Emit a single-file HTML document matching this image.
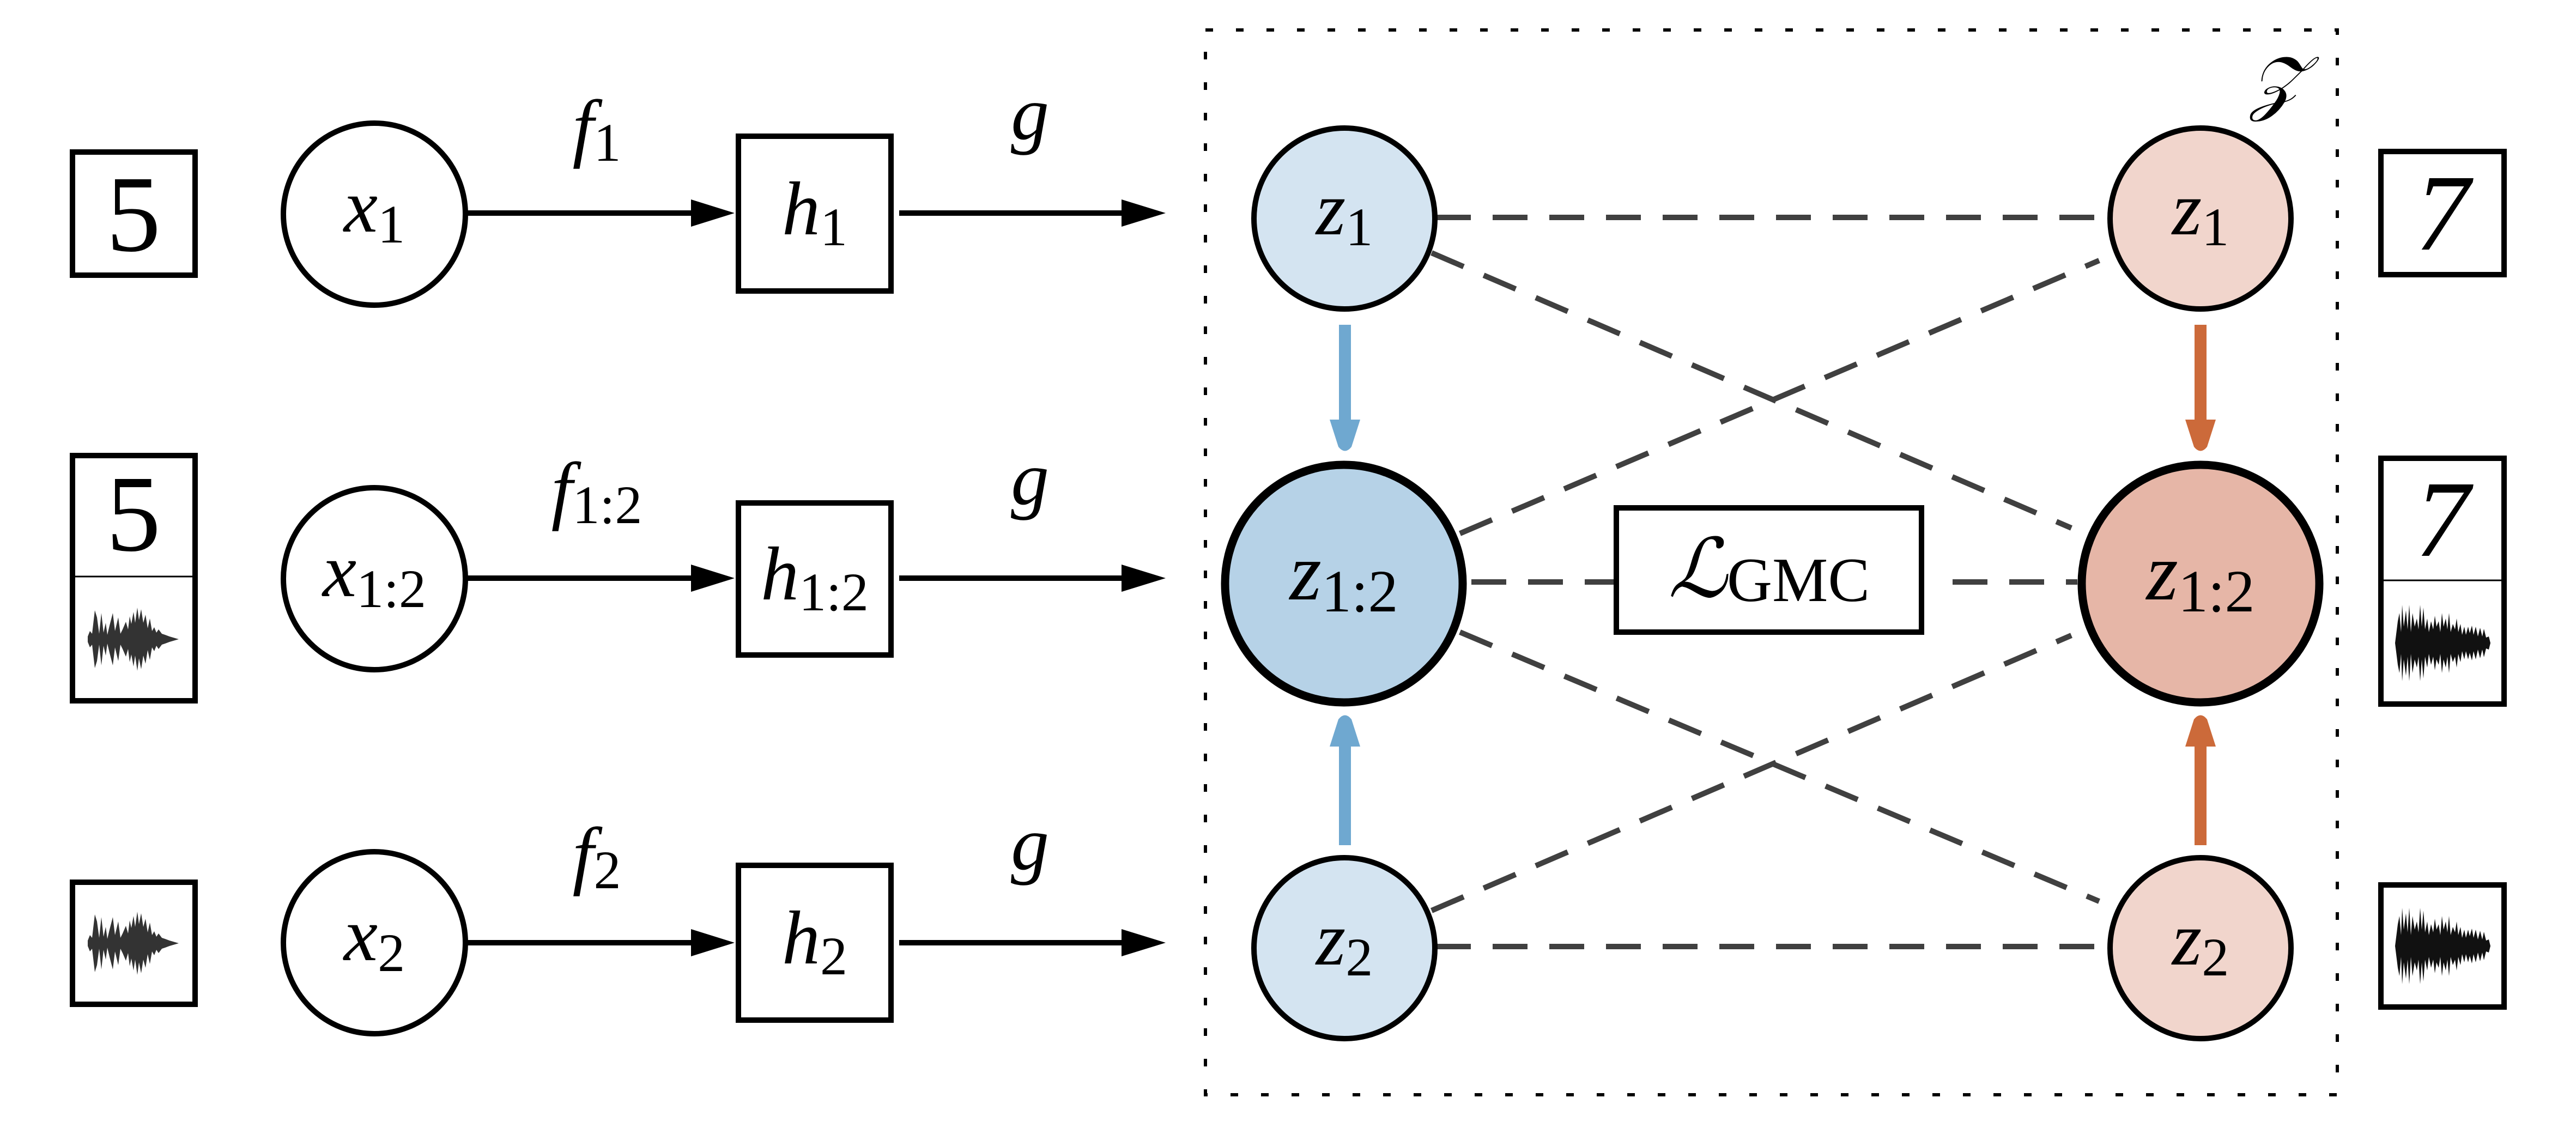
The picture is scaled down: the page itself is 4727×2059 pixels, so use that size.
<!DOCTYPE html>
<html><head><meta charset="utf-8"><style>
html,body{margin:0;padding:0;background:#fff;}
svg{display:block;}
svg text, svg tspan{font-family:"Liberation Serif","Times New Roman",Times,"Nimbus Roman","DejaVu Serif",serif;}
svg .sc{font-family:"DejaVu Serif","Liberation Serif",serif;}
.v{font-style:italic;font-size:140px;}
.s{font-style:normal;font-size:100px;}
</style></head><body>
<svg width="4727" height="2059" viewBox="0 0 4727 2059" xmlns="http://www.w3.org/2000/svg" font-family="'Liberation Serif', Times, serif">
<defs>
<g id="wl">
<path d="M0,-5 L4,-15 L8,-10 L13,-53 L17,-40 L21,-10 L25,-48 L29,-12 L33,-30 L36,-8 L40,-25 L46,-48 L50,-15 L56,-40 L60,-10 L64,-18 L70,-32 L74,-18 L77,-42 L80,-28 L84,-50 L87,-30 L91,-58 L94,-35 L98,-55 L102,-30 L106,-45 L110,-20 L114,-38 L118,-15 L122,-22 L126,-12 L130,-18 L136,-10 L142,-8 L150,-5 L167,0 L150,5 L142,8 L136,10 L130,18 L126,12 L122,22 L118,15 L114,38 L110,20 L106,45 L102,30 L98,55 L94,35 L91,58 L87,30 L84,50 L80,28 L77,42 L74,18 L70,32 L64,18 L60,10 L56,40 L50,15 L46,48 L40,25 L36,8 L33,30 L29,12 L25,48 L21,10 L17,40 L13,53 L8,10 L4,15 L0,5 Z" fill="#333"/>
</g>
<g id="wr">
<path d="M0,0 L5,-40 L8,-55 L11,-20 L13,-70 L16,-30 L20,-60 L23,-25 L26,-70 L29,-20 L32,-55 L36,-30 L40,-45 L43,-25 L46,-70 L49,-30 L52,-65 L55,-25 L59,-45 L62,-20 L66,-40 L70,-25 L73,-50 L76,-30 L80,-40 L83,-20 L86,-55 L89,-30 L93,-45 L96,-25 L99,-55 L102,-20 L106,-35 L110,-25 L113,-45 L116,-20 L120,-35 L123,-15 L127,-30 L130,-15 L134,-30 L137,-18 L141,-32 L144,-15 L148,-30 L152,-12 L156,-28 L160,-12 L163,-26 L167,-10 L172,-12 L175,0 L172,12 L167,10 L163,26 L160,12 L156,28 L152,12 L148,30 L144,15 L141,32 L137,18 L134,30 L130,15 L127,30 L123,15 L120,35 L116,20 L113,45 L110,25 L106,35 L102,20 L99,55 L96,25 L93,45 L89,30 L86,55 L83,20 L80,40 L76,30 L73,50 L70,25 L66,40 L62,20 L59,45 L55,25 L52,65 L49,30 L46,70 L43,25 L40,45 L36,30 L32,55 L29,20 L26,70 L23,25 L20,60 L16,30 L13,70 L11,20 L8,55 L5,40 Z" fill="#111"/>
</g>
</defs>

<rect x="2212" y="55" width="2077" height="1954" fill="none" stroke="#000" stroke-width="6" stroke-dasharray="14 42"/>
<text x="4178" y="195" text-anchor="middle" class="sc" style="font-style:italic;font-size:130px">𝒵</text>

<g stroke="#000" stroke-width="10" fill="#fff">
<rect x="133" y="279" width="225" height="226"/>
<rect x="133" y="836" width="225" height="450"/>
<rect x="133" y="1619" width="225" height="224"/>
<rect x="4369" y="278" width="226" height="226"/>
<rect x="4369" y="841" width="226" height="451"/>
<rect x="4369" y="1624" width="226" height="224"/>
</g>
<line x1="133" y1="1058" x2="358" y2="1058" stroke="#000" stroke-width="3"/>
<line x1="4369" y1="1065" x2="4595" y2="1065" stroke="#000" stroke-width="3"/>
<text x="245" y="460" text-anchor="middle" font-size="200">5</text>
<text x="245" y="1010" text-anchor="middle" font-size="200">5</text>
<text x="4482" y="458" text-anchor="middle" font-size="200" font-style="italic">7</text>
<text x="4482" y="1020" text-anchor="middle" font-size="200" font-style="italic">7</text>
<use href="#wl" x="161" y="1173"/>
<use href="#wl" x="161" y="1731"/>
<use href="#wr" x="4395" y="1180"/>
<use href="#wr" x="4395" y="1736"/>

<g stroke="#000" stroke-width="10" fill="#fff">
<circle cx="687" cy="393" r="167"/>
<circle cx="687" cy="1062" r="167"/>
<circle cx="687" cy="1730" r="167"/>
<rect x="1355" y="250" width="280" height="284"/>
<rect x="1355" y="923" width="280" height="279"/>
<rect x="1355" y="1588" width="280" height="284"/>
</g>
<g stroke="#000" stroke-width="10">
<line x1="855" y1="391" x2="1290" y2="391"/>
<line x1="1650" y1="391" x2="2080" y2="391"/>
<line x1="855" y1="1061" x2="1290" y2="1061"/>
<line x1="1650" y1="1061" x2="2080" y2="1061"/>
<line x1="855" y1="1730" x2="1290" y2="1730"/>
<line x1="1650" y1="1730" x2="2080" y2="1730"/>
</g>
<g fill="#000">
<path d="M1268,366 L1348,391 L1268,416 Z"/>
<path d="M2058,366 L2139,391 L2058,416 Z"/>
<path d="M1268,1036 L1348,1061 L1268,1086 Z"/>
<path d="M2058,1036 L2139,1061 L2058,1086 Z"/>
<path d="M1268,1705 L1348,1730 L1268,1755 Z"/>
<path d="M2058,1705 L2139,1730 L2058,1755 Z"/>
</g>
<text x="687" y="425" text-anchor="middle" class="v">x<tspan class="s" dy="20">1</tspan></text>
<text x="687" y="1094" text-anchor="middle" class="v">x<tspan class="s" dy="20">1:2</tspan></text>
<text x="687" y="1762" text-anchor="middle" class="v">x<tspan class="s" dy="20">2</tspan></text>
<text x="1495" y="430" text-anchor="middle" class="v">h<tspan class="s" dy="20">1</tspan></text>
<text x="1495" y="1100" text-anchor="middle" class="v">h<tspan class="s" dy="20">1:2</tspan></text>
<text x="1495" y="1768" text-anchor="middle" class="v">h<tspan class="s" dy="20">2</tspan></text>
<text x="1095" y="280" text-anchor="middle" class="v">f<tspan class="s" dy="15">1</tspan></text>
<text x="1095" y="945" text-anchor="middle" class="v">f<tspan class="s" dy="15">1:2</tspan></text>
<text x="1095" y="1615" text-anchor="middle" class="v">f<tspan class="s" dy="15">2</tspan></text>
<text x="1890" y="255" text-anchor="middle" class="v">g</text>
<text x="1890" y="925" text-anchor="middle" class="v">g</text>
<text x="1890" y="1595" text-anchor="middle" class="v">g</text>

<g stroke="#404040" stroke-width="10" stroke-dasharray="64 40" fill="none">
<line x1="2635" y1="399" x2="3872" y2="399"/>
<line x1="2635" y1="1737" x2="3872" y2="1737"/>
<line x1="2627" y1="464" x2="3801" y2="969"/>
<line x1="2679" y1="979" x2="3852" y2="478"/>
<line x1="2679" y1="1160" x2="3852" y2="1654"/>
<line x1="2627" y1="1671" x2="3801" y2="1166"/>
<line x1="2700" y1="1068" x2="2966" y2="1068"/>
<line x1="3583" y1="1068" x2="3812" y2="1068"/>
</g>
<rect x="2966" y="932" width="560" height="228" fill="#fff" stroke="#000" stroke-width="10"/>
<text x="3246" y="1095" text-anchor="middle" style="font-size:150px"><tspan class="sc" style="font-style:italic">ℒ</tspan><tspan font-size="115" dy="8">GMC</tspan></text>

<g stroke-width="22" fill="none">
<line x1="2468" y1="596" x2="2468" y2="780" stroke="#6fa8d0"/>
<line x1="2468" y1="1551" x2="2468" y2="1360" stroke="#6fa8d0"/>
<line x1="4038" y1="596" x2="4038" y2="780" stroke="#cc6a3a"/>
<line x1="4038" y1="1551" x2="4038" y2="1360" stroke="#cc6a3a"/>
</g>
<path d="M2440,770 L2496,770 L2480,820 Q2468,835 2456,820 Z" fill="#6fa8d0"/>
<path d="M2440,1370 L2496,1370 L2480,1320 Q2468,1305 2456,1320 Z" fill="#6fa8d0"/>
<path d="M4010,770 L4066,770 L4050,820 Q4038,835 4026,820 Z" fill="#cc6a3a"/>
<path d="M4010,1370 L4066,1370 L4050,1320 Q4038,1305 4026,1320 Z" fill="#cc6a3a"/>

<circle cx="2467" cy="401" r="166" fill="#d4e4f1" stroke="#000" stroke-width="10"/>
<circle cx="2467" cy="1740" r="166" fill="#d4e4f1" stroke="#000" stroke-width="10"/>
<circle cx="2466" cy="1071" r="218" fill="#b6d2e7" stroke="#000" stroke-width="15"/>
<circle cx="4038" cy="401" r="166" fill="#f1d5cc" stroke="#000" stroke-width="10"/>
<circle cx="4038" cy="1740" r="166" fill="#f1d5cc" stroke="#000" stroke-width="10"/>
<circle cx="4038" cy="1071" r="218" fill="#e6b6a7" stroke="#000" stroke-width="15"/>
<text x="2467" y="430" text-anchor="middle" class="v">z<tspan class="s" dy="20">1</tspan></text>
<text x="2467" y="1770" text-anchor="middle" class="v">z<tspan class="s" dy="20">2</tspan></text>
<text x="2466" y="1100" text-anchor="middle" class="v" style="font-size:150px">z<tspan class="s" style="font-size:110px" dy="22">1:2</tspan></text>
<text x="4038" y="430" text-anchor="middle" class="v">z<tspan class="s" dy="20">1</tspan></text>
<text x="4038" y="1770" text-anchor="middle" class="v">z<tspan class="s" dy="20">2</tspan></text>
<text x="4038" y="1100" text-anchor="middle" class="v" style="font-size:150px">z<tspan class="s" style="font-size:110px" dy="22">1:2</tspan></text>
</svg>
</body></html>
